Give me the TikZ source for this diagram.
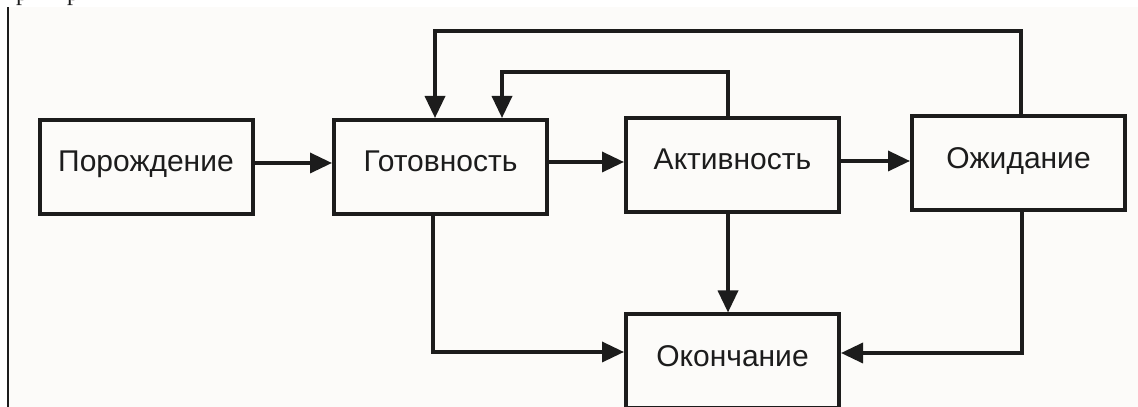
\documentclass[tikz,border=0pt]{standalone}
\usepackage{fontspec}
\setmainfont{Liberation Sans}
\newfontfamily\serifcut{Liberation Serif}
\usetikzlibrary{arrows.meta}
\definecolor{ink}{RGB}{28,28,28}
\definecolor{paper}{RGB}{252,251,249}
\begin{document}
\begin{tikzpicture}[x=1pt,y=1pt,
  state/.style={draw=ink, line width=4pt, rectangle, inner sep=0pt,
    minimum width=213pt, minimum height=94pt,
    text height=22pt, text depth=12pt,
    font=\fontsize{30}{30}\selectfont, text=ink},
  link/.style={draw=ink, line width=3.5pt, -{Triangle[length=22pt,width=20pt]}}]
  \useasboundingbox (0,0) rectangle (1138,407);
  % page edge and tinted paper
  \fill[white] (0,0) rectangle (1138,407);
  \fill[paper] (9,0) rectangle (1138,400);
  \draw[ink, line width=1.5pt] (8,0) -- (8,400);
  % descenders of the line above, cut by the page top
  \node[anchor=base west, inner sep=0pt, font=\serifcut\fontsize{24}{24}\selectfont, text=ink]
    (cutA) at (16,406) {р};
  \node[anchor=base west, inner sep=0pt, font=\serifcut\fontsize{24}{24}\selectfont, text=ink]
    (cutB) at (67,406) {р};

  % states
  \node[state] (por) at (146,240)    {Порождение};
  \node[state] (got) at (440.5,240)  {Готовность};
  \node[state] (akt) at (732.5,242)  {Активность};
  \node[state] (ozh) at (1018.5,243.5) {Ожидание};
  \node[state] (okn) at (732.5,45.5) {Окончание};

  % forward transitions
  \draw[link] (por.east |- 0,244) -- (got.west |- 0,244);
  \draw[link] (got.east |- 0,245) -- (akt.west |- 0,245);
  \draw[link] (akt.east |- 0,246) -- (ozh.west |- 0,246);

  % returns to readiness
  \coordinate (topR) at (1021,376);
  \coordinate (topL) at (435,376);
  \draw[link] (ozh.north -| topR) -- (topR) -- (topL) -- (got.north -| topL);
  \coordinate (midR) at (728,335);
  \coordinate (midL) at (502,335);
  \draw[link] (akt.north -| midR) -- (midR) -- (midL) -- (got.north -| midL);

  % transitions to termination
  \coordinate (lowL) at (433,55);
  \draw[link] (got.south -| lowL) -- (lowL) -- (okn.west |- lowL);
  \coordinate (lowR) at (1022,54);
  \draw[link] (ozh.south -| lowR) -- (lowR) -- (okn.east |- lowR);
  \coordinate (downX) at (728,0);
  \draw[link] (akt.south -| downX) -- (okn.north -| downX);
\end{tikzpicture}
\end{document}
